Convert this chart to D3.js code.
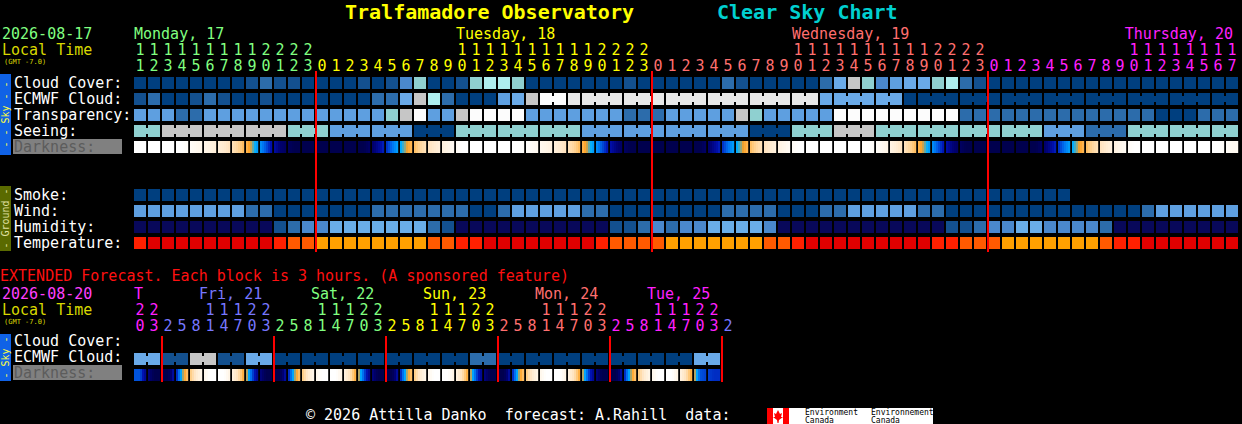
<!DOCTYPE html>
<html><head><meta charset="utf-8">
<script src="https://cdn.jsdelivr.net/npm/d3@7"></script>
<style>body{margin:0;background:#000}svg{display:block}text{font-family:"DejaVu Sans Mono",monospace;white-space:pre}</style>
</head><body><svg id="c" width="1242" height="424"></svg>
<script>
// ---------- data ----------
const title = "Tralfamadore Observatory";
const subtitle = "Clear Sky Chart";
const startDate = "2026-08-17";
const extDate = "2026-08-20";
const startHour = 11;
const dayNames = ["Monday, 17","Tuesday, 18","Wednesday, 19","Thursday, 20"];
const extDayNames = ["T","Fri, 21","Sat, 22","Sun, 23","Mon, 24","Tue, 25"];
const extHours = [20,23,2,5,8,11,14,17,20,23,2,5,8,11,14,17,20,23,2,5,8,11,14,17,20,23,2,5,8,11,14,17,20,23,2,5,8,11,14,17,20,23,2];
const skyRows = ["Cloud Cover:","ECMWF Cloud:","Transparency:","Seeing:"];
const groundRows = ["Smoke:","Wind:","Humidity:","Temperature:"];
const cloud = [0,0,0,0,0,0,0,0,1,2,1,1,0,0,0,0,1,0,1,3,
 6,0,0,1,6,7,7,6,0,0,0,0,0,0,0,1,0,0,0,0,0,0,2,1,0,0,
 0,0,0,2,5,8,6,3,4,5,5,6,7,2,1,0,0,0,0,0,0,0,0,0,0,0,0,0,0,0,0,0,0];
const ecmwf = [1,2,0,0,1,2,1,0,0,1,0,0,
 0,0,0,0,0,2,2,5,8,7,2,0,0,0,4,5,8,10,10,
 9,9,9,9,9,9,9,9,9,9,9,9,9,9,9,9,9,9,
 5,5,5,5,5,5,
 0,0,0,0,0,0,0,0,0,0,0,0,0,0,0,0,0,0,0,0,0,0,0,0];
const transparency = [4,4,4,2,2,4,4,4,4,4,4,4,4,4,4,4,4,4,6,8,10,4,4,8,10,10,10,10,
 4,4,4,4,4,4,4,2,2,2,4,4,4,4,4,8,6,4,4,4,4,4,
 10,10,10,10,10,10,10,10,10,2,2,2,2,2,2,2,2,2,2,2,2,2,2,0,0,0,2,2,2];
const seeing = [6,6,8,8,8,8,8,8,8,8,8,6,6,6,4,4,4,4,4,4,0,0,0,
 6,6,6,6,6,6,6,6,6,4,4,4,4,4,4,4,4,4,4,4,4,0,0,0,6,6,6,8,8,8,
 6,6,6,6,6,6,6,6,6,6,6,6,4,4,4,2,2,2,6,6,6,6,6,6,6,6];
const darkness = [-4,-4,-4,-4,-3.5,-3,-2.5,-1.5,0.3,1.8,3.5,4.5,4.5,4.5,4.5,4.5,4.5,
 3,1.5,0.2,-1.5,-2.5,-3.2,-4,-4,-4,-4,-4,-3.7,-3.2,-2.5,-1.5,0.3,1.8,3.3,
 4.5,4.5,4.5,4.5,4.5,4.5,3,1.5,0.2,-1.5,-2.5,-3.3,-4,-4,-4,-4,-4,-4,
 -3.5,-2.7,-1.5,0.3,1.8,3.3,4.5,4.5,4.5,4.5,4.5,4.5,3,1.5,0.2,-1.5,-2.5,-3.3,
 -4,-4,-4,-4,-4,-4,-4,-3.5];
const smoke = [0,0,0,0,0,0,0,0,0,0,0,0,0,0,0,0,0,0,0,0,0,0,0,0,0,0,0,0,0,0,0,0,0,0,
 0,0,0,0,0,0,0,0,0,0,0,0,0,0,0,0,0,0,0,0,0,0,0,0,0,0,0,0,0,0,0,0,0];
const wind = [4,4,4,4,4,4,4,4,2,2,0,0,0,0,0,0,0,2,2,2,2,2,2,2,0,0,2,4,4,4,4,4,2,2,
 0,0,0,0,0,0,0,0,2,2,2,2,0,0,0,2,2,4,4,4,4,4,2,2,0,0,0,0,0,0,0,0,0,0,0,0,0,0,2,4,4,4,4,4,4];
const humidity = [0,0,0,0,0,0,0,0,0,0,1,2,3,3,4,4,4,4,4,4,4,2,1,0,0,0,0,0,0,0,0,0,0,0,
 1,1,2,3,2,3,3,4,4,4,4,3,0,0,0,0,0,0,0,0,0,0,0,0,1,1,2,3,3,4,4,3,3,3,3,2,0,0,0,0,0,0,0,0,0];
const temperature = [2,3,3,3,3,3,3,3,3,3,2,1,1,0,0,0,0,0,0,0,0,1,1,2,2,3,3,3,3,3,3,3,3,
 2,1,1,1,1,0,0,0,0,0,0,0,1,1,2,3,3,3,3,3,3,3,3,3,2,2,1,1,1,0,0,0,0,0,0,0,1,2,2,3,3,3,3,3,3,3];
const extEcmwf = [5,5,1,1,8,8,1,1,5,5,0,0,0,0,0,0,0,0,0,0,0,0,0,0,2,2,0,0,0,0,0,0,0,0,0,0,0,0,0,0,5,5];
const extDarkness = [1.8,4.5, 4.5,0.5,-2.5,-4,-4,-2,1.8,4.5, 4.5,0.5,-2.5,-4,-4,-2,1.8,4.5,
 4.5,0.5,-2.5,-4,-4,-2,1.8,4.5, 4.5,0.5,-2.5,-4,-4,-2,1.8,4.5, 4.5,0.5,-2.5,-4,-4,-2,1.8,2.2];
const footer = "© 2026 Attilla Danko  forecast: A.Rahill  data:";

// ---------- styles ----------
const cloudPal = ['#003f7f','#13508f','#2c6cab','#4a88cc','#5e9fe0','#6aaae8','#8fd0d0','#aeeeee','#c6c6c6','#e8e8e8','#fcfcfc'];
const humPal = ['#08085a','#13508f','#2c6cab','#4a88cc','#6aaee8'];
const tempPal = ['#ffa000','#ff5a00','#ff2000','#e00000'];
const dayCols = ['#80ff80','#ffff00','#ff6f6f','#ff20ff','#7777ff'];
const darkScale = d3.scaleLinear()
  .domain([-4,-3,-2,-1,0,0.7,1.5,2.5,3.5,4.5])
  .range(['#ffffff','#fff3e2','#ffe2bc','#ffc878','#ffa020','#00b0ff','#0070f0','#0010b0','#000070','#00004e'])
  .clamp(true);

const svg = d3.select('#c');
svg.append('rect').attr('width',1242).attr('height',424).attr('fill','#000');
const x = d3.scaleLinear().domain([0,1]).range([134,148]);
const CW = 12;

function txt(s, px, py, col, size, opts={}) {
  const t = svg.append('text').attr('x',px).attr('y',py).attr('fill',col)
    .attr('font-size',size).attr('xml:space','preserve').text(s);
  if (opts.bold) t.attr('font-weight','bold');
  if (opts.anchor) t.attr('text-anchor',opts.anchor);
  return t;
}

// Title
txt(title, 345, 19, '#ffff00', 20, {bold:true});
txt(subtitle, 717, 19, '#00d0d0', 20, {bold:true});

// header left
txt(startDate, 2, 39, '#80ff80', 15);
txt("Local Time", 2, 55, '#d8d800', 15);
txt("(GMT -7.0)", 4, 64, '#d8d800', 7);

// day labels and hour digits
const nCols = cloud.length;
const dayStartCols = [0,23,47,71];
dayNames.forEach((d,i)=>{
  txt(d, i===3 ? 1233 : x(dayStartCols[i]), 39, dayCols[i], 15, i===3?{anchor:'end'}:{});
});
for (let i=0;i<nCols;i++){
  const h = (startHour+i)%24, day = Math.floor((startHour+i)/24);
  const c = dayCols[day%5];
  if (h>=10) txt(String(Math.floor(h/10)), x(i)+6, 55, c, 15, {anchor:'middle'});
  txt(String(h%10), x(i)+6, 71, c, 15, {anchor:'middle'});
}

// side bars
function sideBar(y0,h,fill,label,col){
  svg.append('rect').attr('x',0).attr('y',y0).attr('width',11).attr('height',h).attr('fill',fill);
  svg.append('text').attr('transform',`translate(8.5,${y0+h/2}) rotate(-90)`)
    .attr('text-anchor','middle').attr('fill',col).attr('font-size',10).text(label);
}
sideBar(74,81,'#1062e6','- - Sky - -','#ffff40');
sideBar(186,65,'#5a6a00','- Ground -','#e0e0a0');
sideBar(334,47,'#1062e6','- Sky -','#ffff40');

// row labels
const skyY = [77,93,109,125];
skyRows.forEach((r,i)=>txt(r,14,skyY[i]+11,'#ffffff',15));
svg.append('rect').attr('x',13).attr('y',139).attr('width',109).attr('height',15).attr('fill','#808080');
txt("Darkness:",14,152,'#5c5c5c',15);
const gY = [189,205,221,237];
groundRows.forEach((r,i)=>txt(r,14,gY[i]+11,'#ffffff',15));

// generic row drawer
function drawRow(data, y, pal, group, xs=x){
  const g = svg.append('g');
  g.selectAll('rect.c').data(data).join('rect')
    .attr('x',(d,i)=>xs(i)).attr('y',y).attr('width',CW).attr('height',12)
    .attr('fill',d=>pal[d]);
  if (group){
    const links = data.map((d,i)=>({d,i})).filter(o=>o.i<data.length-1 && data[o.i+1]===o.d && group(o.i)===group(o.i+1));
    g.selectAll('rect.l').data(links).join('rect')
      .attr('x',o=>xs(o.i)+CW).attr('y',y+3).attr('width',2).attr('height',6)
      .attr('fill',o=>pal[o.d]);
  }
}
const grp3 = i=>Math.floor((i+1)/3);
drawRow(cloud, 77, cloudPal);
drawRow(ecmwf, 93, cloudPal, i=> i>=28 ? grp3(i) : 'x'+i);
drawRow(transparency, 109, cloudPal);
drawRow(seeing, 125, cloudPal, grp3);

function drawDark(data, y, xs){
  const g = svg.append('g');
  const n = data.length, S = 6;
  const slices = [];
  data.forEach((v,i)=>{
    const left = i>0 ? (data[i-1]+v)/2 : v;
    const right = i<n-1 ? (data[i+1]+v)/2 : v;
    for (let s=0;s<S;s++){
      const f = (s+0.5)/S;
      const val = f<0.5 ? left+(v-left)*f*2 : v+(right-v)*(f-0.5)*2;
      slices.push({i,s,val});
    }
  });
  g.selectAll('rect').data(slices).join('rect')
    .attr('x',o=>xs(o.i)+o.s*CW/S).attr('y',y).attr('width',CW/S+0.2).attr('height',12)
    .attr('fill',o=>darkScale(o.val));
}
drawDark(darkness, 141, x);

drawRow(smoke, 189, ['#003f7f']);
drawRow(wind, 205, cloudPal);
drawRow(humidity, 221, humPal);
drawRow(temperature, 237, tempPal);

// midnight lines
for (let i=0;i<nCols;i++){
  if ((startHour+i)%24===0)
    svg.append('rect').attr('x',x(i)-1).attr('y',71).attr('width',2).attr('height',181).attr('fill','#ff0000');
}

// ---------- extended ----------
txt("EXTENDED Forecast. Each block is 3 hours. (A sponsored feature)", 0, 281, '#ff1010', 15);
txt(extDate, 2, 299, '#ff40ff', 15);
txt("Local Time", 2, 315, '#d8d800', 15);
txt("(GMT -7.0)", 4, 324, '#d8d800', 7);
const extDayIdx = [3,4,0,1,2,3];
const extLabelCols = [0,5,13,21,29,37];
extDayNames.forEach((d,i)=>txt(d, i===0 ? x(0) : x(extLabelCols[i])-5, 299, dayCols[extDayIdx[i]], 15));
let dcount = 3;
extHours.forEach((h,i)=>{
  if (i>0 && h < extHours[i-1]) dcount++;
  const c = dayCols[dcount%5];
  if (h>=10) txt(String(Math.floor(h/10)), x(i)+6, 315, c, 15, {anchor:'middle'});
  txt(String(h%10), x(i)+6, 331, c, 15, {anchor:'middle'});
});
txt("Cloud Cover:",14,346,'#ffffff',15);
txt("ECMWF Cloud:",14,362,'#ffffff',15);
svg.append('rect').attr('x',13).attr('y',365).attr('width',109).attr('height',15).attr('fill','#808080');
txt("Darkness:",14,378,'#5c5c5c',15);
drawRow(extEcmwf, 353, cloudPal, i=>Math.floor(i/2));
drawDark(extDarkness, 369, x);
for (let i=1;i<extHours.length;i++){
  if (extHours[i] < extHours[i-1])
    svg.append('rect').attr('x',x(i)-1).attr('y',336).attr('width',2).attr('height',46).attr('fill','#ff0000');
}

// footer
txt(footer, 306, 420, '#ffffff', 15);
const lg = svg.append('g').attr('transform','translate(767,408)');
lg.append('rect').attr('width',166).attr('height',16).attr('fill','#ffffff');
lg.append('rect').attr('width',6).attr('height',16).attr('fill','#ff0000');
lg.append('rect').attr('x',16).attr('width',6).attr('height',16).attr('fill','#ff0000');
lg.append('path').attr('d','M11,2 L13,6 L15,5 L14,9 L16,9 L12,12 L11.5,15 L10.5,15 L10,12 L6,9 L8,9 L7,5 L9,6 Z').attr('fill','#ff0000');
[['Environment',38,7],['Canada',38,15],['Environnement',104,7],['Canada',104,15]].forEach(a=>
  lg.append('text').attr('x',a[1]).attr('y',a[2]).attr('font-size',8).attr('fill','#000').attr('font-family','Liberation Sans').text(a[0]));
</script></body></html>
